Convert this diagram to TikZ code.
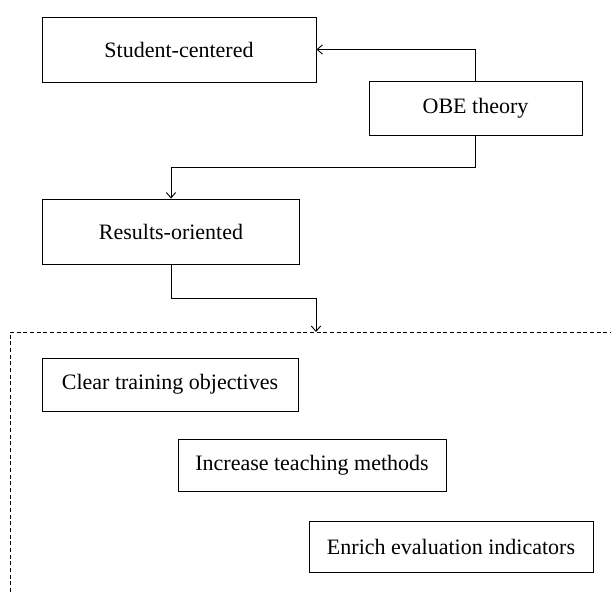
\documentclass[tikz,border=0pt]{standalone}
\usepackage{fontspec}
\setmainfont{Liberation Serif}
\usepackage{tikz}
\usetikzlibrary{positioning, arrows.meta}

\tikzset{
  box/.style={draw, line width=0.7pt, rectangle, inner sep=0pt, font=\fontsize{16.5}{19}\selectfont},
}

\begin{document}
\begin{tikzpicture}[x=0.75pt, y=-0.75pt, line width=0.7pt, >={Straight Barb[length=4pt,width=7pt]}]
    \useasboundingbox (0,0) rectangle (611,592);
    % Nodes
    \node (student) [box, minimum width=205.5pt, minimum height=48.75pt] at (179,49.5) {Student-centered};
    \node (obe) [box, minimum width=159.75pt, minimum height=40.5pt] at (475.5,108) {OBE theory};
    \node (results) [box, minimum width=192.75pt, minimum height=48.75pt] at (171,231.5) {Results-oriented};
    \node (objectives) [box, minimum width=192pt, minimum height=39.75pt] at (170,384.5) {Clear training objectives};
    \node (methods) [box, minimum width=201pt, minimum height=39pt] at (312,465) {Increase teaching methods};
    \node (indicators) [box, minimum width=213pt, minimum height=38.25pt] at (451,546.5) {Enrich evaluation indicators};

    \coordinate (bend1) at (475.5,167);
    \coordinate (bend2) at (171,298);
    \coordinate (frame-top) at (316,332);

    % Dashed frame
    \draw[dashed, dash pattern=on 3pt off 2pt] (10,592) |- (611,332);

    % Arrows
    \draw[->] (obe.north) |- (student.east);
    \draw[->] (obe) -- (bend1) -| (results);
    \draw[->] (results) -- (bend2) -| (frame-top);
  \end{tikzpicture}
\end{document}
